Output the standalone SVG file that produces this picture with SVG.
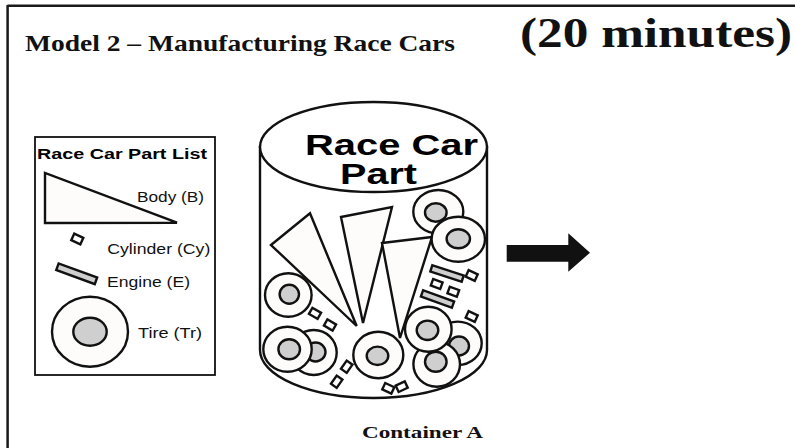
<svg xmlns="http://www.w3.org/2000/svg" width="795" height="448" viewBox="0 0 795 448">
  <style>
    .frame { stroke: #1a1a1a; stroke-width: 2.5; fill: none; }
    .ink { stroke: #111; stroke-width: 2.4; stroke-linejoin: miter; }
    .paper { fill: #fdfcfa; }
    .hub { fill: #cfcfcf; }
    .eng { fill: #cfcfcf; }
    .box { fill: #ffffff; }
    .serif { font-family: "Liberation Serif", "Times New Roman", serif; font-weight: bold; fill: #111; }
    .sans { font-family: "Liberation Sans", Arial, sans-serif; fill: #111; }
    .sansb { font-family: "Liberation Sans", Arial, sans-serif; font-weight: bold; fill: #000; }
  </style>
  <defs>
    <!-- cylinder: small square-ish block -->
    <rect id="cyl" x="-5" y="-3.5" width="10" height="7" class="ink box"/>
    <!-- engine: long grey bar -->
    <rect id="eng-s" x="-16.5" y="-3.25" width="33" height="6.5" class="ink eng"/>
    <rect id="eng-l" x="-20.5" y="-3.5" width="41" height="7" class="ink eng"/>
  </defs>

  <rect width="795" height="448" fill="#ffffff"/>

  <!-- page frame (top and left edges) -->
  <line class="frame" x1="7.5" y1="5.7" x2="795" y2="5.7"/>
  <line class="frame" x1="7.6" y1="5" x2="7.6" y2="448"/>

  <!-- headings -->
  <text class="serif" x="25" y="51" font-size="23" textLength="430" lengthAdjust="spacingAndGlyphs">Model 2 – Manufacturing Race Cars</text>
  <text class="serif" x="520" y="47" font-size="42" textLength="272" lengthAdjust="spacingAndGlyphs">(20 minutes)</text>

  <!-- part list legend -->
  <g id="part-list">
    <rect x="35" y="137" width="180" height="238" class="box" stroke="#111" stroke-width="1.8"/>
    <text class="sansb" x="37" y="159" font-size="14.5" textLength="170" lengthAdjust="spacingAndGlyphs">Race Car Part List</text>
    <polygon class="ink paper" points="45,173 45,223 177,222.7"/>
    <text class="sans" x="137" y="202" font-size="14" textLength="67" lengthAdjust="spacingAndGlyphs">Body (B)</text>
    <use href="#cyl" transform="translate(77.3,239) rotate(25)"/>
    <text class="sans" x="107.3" y="254" font-size="14" textLength="103" lengthAdjust="spacingAndGlyphs">Cylinder (Cy)</text>
    <use href="#eng-l" transform="translate(76.7,273.8) rotate(20)"/>
    <text class="sans" x="107" y="286.5" font-size="14" textLength="83" lengthAdjust="spacingAndGlyphs">Engine (E)</text>
    <ellipse class="ink paper" cx="90" cy="331.7" rx="38" ry="35"/>
    <ellipse class="ink hub" cx="90" cy="331.7" rx="16.7" ry="14"/>
    <text class="sans" x="138" y="338" font-size="14" textLength="64" lengthAdjust="spacingAndGlyphs">Tire (Tr)</text>
  </g>

  <!-- Container A: a bin full of parts -->
  <g id="container-a">
    <path class="ink box" d="M260,147 L260,350 A113.5,48 0 0 0 487,350 L487,147 Z"/>
    <ellipse class="ink box" cx="373.5" cy="147" rx="113.5" ry="45"/>
    <text class="sansb" x="305" y="155" font-size="29" textLength="173" lengthAdjust="spacingAndGlyphs">Race Car</text>
    <text class="sansb" x="340" y="184" font-size="29" textLength="77" lengthAdjust="spacingAndGlyphs">Part</text>

    <!-- bodies -->
    <polygon class="ink paper" points="271,245 310,213.3 356.7,326"/>
    <polygon class="ink paper" points="341,217 392,207 363,323"/>
    <polygon class="ink paper" points="382,243 432,237 400,338"/>

    <!-- tires -->
    <g class="ink">
      <ellipse class="paper" cx="438.3" cy="211.7" rx="25" ry="21.7"/>
      <ellipse class="hub" cx="435.8" cy="212.5" rx="10.8" ry="9.2"/>
      <ellipse class="paper" cx="458.3" cy="239.2" rx="26.7" ry="22.5"/>
      <ellipse class="hub" cx="458.3" cy="238.8" rx="11.7" ry="9.5"/>

      <ellipse class="paper" cx="288.3" cy="295" rx="23.3" ry="21.7"/>
      <ellipse class="hub" cx="289.3" cy="294.3" rx="9.7" ry="9.5"/>

      <ellipse class="paper" cx="313.7" cy="352.5" rx="23" ry="22.5"/>
      <ellipse class="hub" cx="315.5" cy="352" rx="10" ry="9.5"/>
      <ellipse class="paper" cx="287.5" cy="349.2" rx="24.2" ry="22.5"/>
      <ellipse class="hub" cx="289.2" cy="349.3" rx="10.8" ry="10"/>

      <ellipse class="paper" cx="378.3" cy="355" rx="25" ry="23.3"/>
      <ellipse class="hub" cx="377.5" cy="355.8" rx="10.8" ry="9.2"/>

      <ellipse class="paper" cx="457.7" cy="343.3" rx="24" ry="21.7"/>
      <ellipse class="hub" cx="459" cy="346" rx="10" ry="9.5"/>
      <ellipse class="paper" cx="436.7" cy="364.2" rx="23.3" ry="22.5"/>
      <ellipse class="hub" cx="435.8" cy="361.7" rx="10.8" ry="10"/>
      <ellipse class="paper" cx="428.3" cy="329.2" rx="23.3" ry="22.5"/>
      <ellipse class="hub" cx="427.5" cy="330.3" rx="10.8" ry="9.7"/>
    </g>

    <!-- engines -->
    <use href="#eng-s" transform="translate(447,273.5) rotate(18)"/>
    <use href="#eng-s" transform="translate(437.5,299) rotate(20)"/>

    <!-- cylinders -->
    <use href="#cyl" transform="translate(471.7,275.5) rotate(25)"/>
    <use href="#cyl" transform="translate(436.7,284) rotate(20)"/>
    <use href="#cyl" transform="translate(453.3,291.7) rotate(20)"/>
    <use href="#cyl" transform="translate(471.7,316.5) rotate(25)"/>
    <use href="#cyl" transform="translate(315,313.3) rotate(30)"/>
    <use href="#cyl" transform="translate(330,325) rotate(30)"/>
    <use href="#cyl" transform="translate(346.7,366.7) rotate(-55)"/>
    <use href="#cyl" transform="translate(336.7,381.7) rotate(-55)"/>
    <use href="#cyl" transform="translate(388.3,388.3) rotate(25)"/>
    <use href="#cyl" transform="translate(401.7,386.7) rotate(-25)"/>

    <text class="serif" x="362" y="438" font-size="17" textLength="121" lengthAdjust="spacingAndGlyphs">Container A</text>
  </g>

  <!-- output arrow -->
  <g id="connectors">
    <polygon fill="#111" points="506.7,245 568.3,245 568.3,233.3 590,252.7 568.3,271.7 568.3,261.7 506.7,261.7"/>
  </g>
</svg>
